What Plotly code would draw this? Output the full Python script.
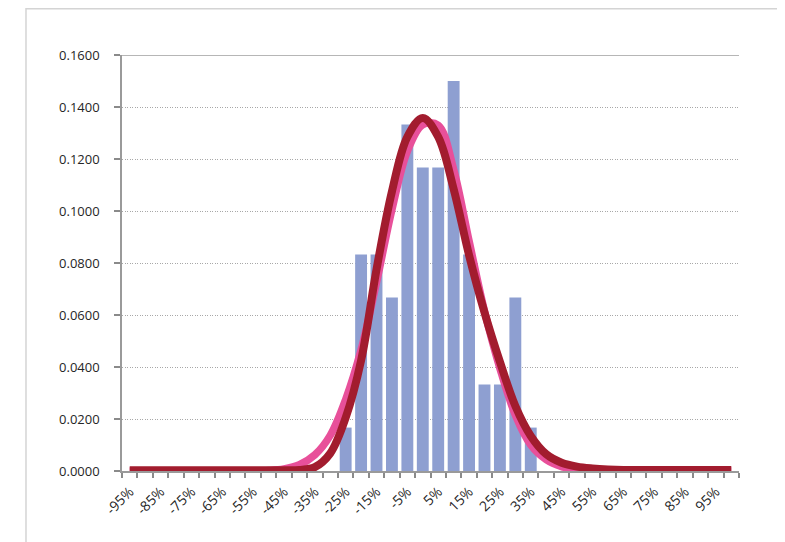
import plotly.graph_objects as go

# return buckets (5% wide) shown on the category axis
categories = ["-95%", "-90%", "-85%", "-80%", "-75%", "-70%", "-65%", "-60%",
              "-55%", "-50%", "-45%", "-40%", "-35%", "-30%", "-25%", "-20%",
              "-15%", "-10%", "-5%", "0%", "5%", "10%", "15%", "20%",
              "25%", "30%", "35%", "40%", "45%", "50%", "55%", "60%",
              "65%", "70%", "75%", "80%", "85%", "90%", "95%", "100%"]

# observed frequency per bucket
bar_labels = ["-25%", "-20%", "-15%", "-10%", "-5%", "0%", "5%", "10%",
              "15%", "20%", "25%", "30%", "35%"]
bar_values = [0.0167, 0.0833, 0.0833, 0.0667, 0.1333, 0.1167, 0.1167, 0.1500,
              0.0833, 0.0333, 0.0333, 0.0667, 0.0167]

# fitted curves, one value per category
pink_values = [0, 0, 0, 0, 0, 0, 0, 0,
               0, 0.0002, 0.0008, 0.0024, 0.0062, 0.0137, 0.0275, 0.0466,
               0.0725, 0.1005, 0.1230, 0.1332, 0.1330, 0.1160, 0.0885, 0.0615,
               0.0395, 0.0215, 0.0100, 0.0044, 0.0017, 0.0006, 0.0002, 0,
               0, 0, 0, 0, 0, 0, 0, 0]
red_values = [0.0003, 0.0003, 0.0003, 0.0003, 0.0003, 0.0003, 0.0003, 0.0003,
              0.0003, 0.0003, 0.0003, 0.0004, 0.0015, 0.0068, 0.0205, 0.0425,
              0.0775, 0.1075, 0.1285, 0.1358, 0.1285, 0.1085, 0.0830, 0.0610,
              0.0420, 0.0250, 0.0135, 0.0065, 0.0032, 0.0017, 0.0010, 0.0006,
              0.0004, 0.0004, 0.0004, 0.0004, 0.0004, 0.0004, 0.0004, 0.0004]

idx = list(range(len(categories)))
bar_x = [categories.index(c) for c in bar_labels]

fig = go.Figure()
fig.add_trace(go.Bar(x=bar_x, y=bar_values, width=0.77,
                     marker=dict(color="#8E9FD1", line=dict(width=0))))
fig.add_trace(go.Scatter(x=idx, y=pink_values, mode="lines",
                         line=dict(color="#E8509A", width=7.5, shape="spline")))
fig.add_trace(go.Scatter(x=idx, y=red_values, mode="lines",
                         line=dict(color="#A21C2E", width=8, shape="spline")))

fnt = dict(family="Open Sans", size=13, color="#262626")
xfnt = dict(family="Open Sans", size=14, color="#262626")

# page body adds 8px, so the figure is made smaller and shifted back
fig.update_layout(
    width=777, height=534,
    margin=dict(l=114, r=46, t=47, b=71),
    paper_bgcolor="white", plot_bgcolor="white",
    showlegend=False,
    font=fnt,
    xaxis=dict(range=[-0.5, len(categories) - 0.5],
               tickmode="array", tickvals=idx[::2], ticktext=categories[::2],
               tickangle=-45, ticks="", showgrid=False, zeroline=False,
               showline=True, linecolor="#9A9A9A", linewidth=2,
               tickfont=xfnt, ticklabelstandoff=5,
               minor=dict(tick0=-0.5, dtick=1, ticks="outside", ticklen=5,
                          tickcolor="#8A8A8A", tickwidth=1.5, showgrid=False)),
    yaxis=dict(range=[0, 0.16], dtick=0.02, tickformat=".4f",
               ticks="outside", ticklen=6, tickcolor="#8A8A8A", tickwidth=1.5,
               showline=True, linecolor="#9A9A9A", linewidth=1.5,
               showgrid=True, gridcolor="#A8A8A8", griddash="1px,1.5px",
               gridwidth=1, zeroline=False, tickfont=fnt,
               ticklabelstandoff=12),
    shapes=[
        dict(type="line", xref="x domain", yref="y", x0=0, x1=1,
             y0=0.16, y1=0.16, line=dict(color="#6E6E6E", width=1.2)),
        dict(type="rect", xref="paper", yref="paper",
             x0=-0.1556, x1=1.0697, y0=-0.4, y1=1.111,
             line=dict(color="#D4D4D4", width=1.5), layer="below"),
    ],
)

fig.write_html("out.html")
